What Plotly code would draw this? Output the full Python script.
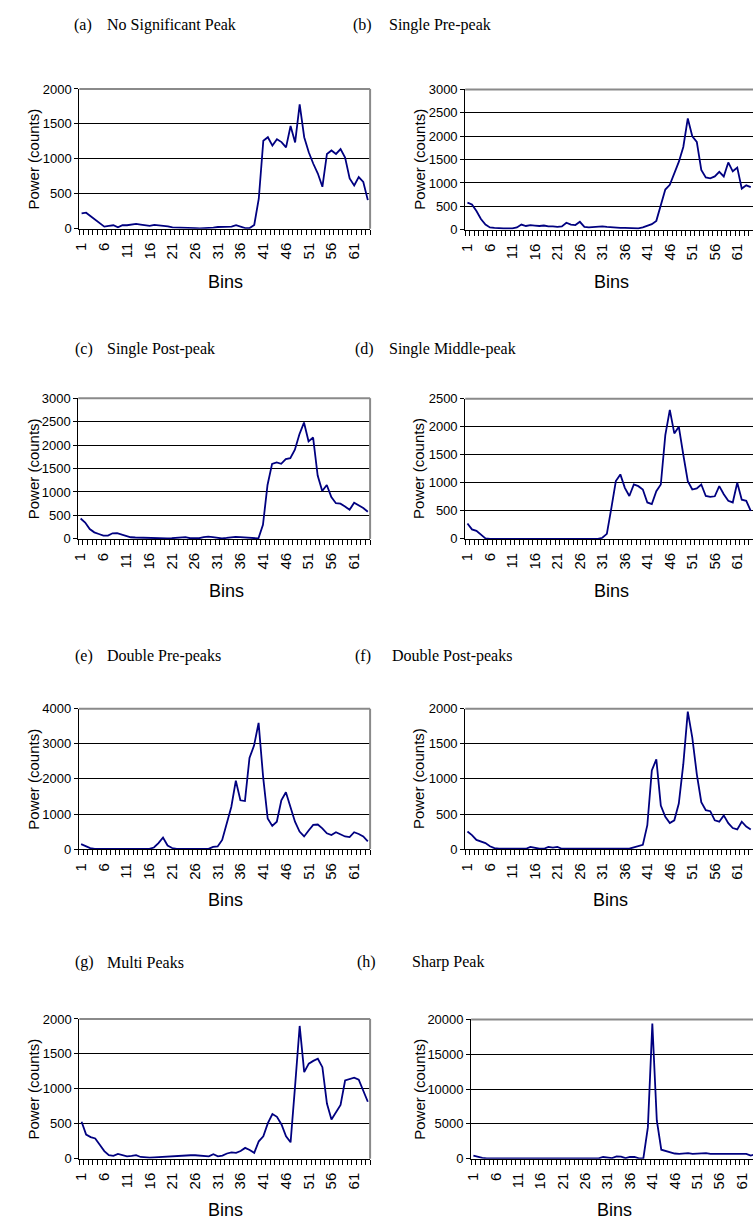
import plotly.graph_objects as go

# ---------------- data ----------------
bins = list(range(1, 65))
tick_bins = [1, 6, 11, 16, 21, 26, 31, 36, 41, 46, 51, 56, 61]
tick_labels = ["1", "6", "11", "16", "21", "26", "31", "36", "41", "46", "51", "56", "61"]

no_significant_peak = [220, 230, 180, 130, 80, 30, 40, 50, 20, 50, 50, 55, 70, 60, 50, 40,
                       55, 50, 40, 35, 20, 20, 10, 10, 15, 10, 5, 5, 10, 15, 25, 30,
                       25, 30, 50, 25, 10, 10, 55, 430, 1260, 1310, 1190, 1280, 1240, 1165, 1470, 1235,
                       1780, 1310, 1095, 930, 790, 600, 1070, 1120, 1070, 1140, 1020, 720, 620, 740, 670, 410]

single_pre_peak = [580, 540, 400, 230, 110, 50, 40, 30, 30, 30, 30, 50, 110, 80, 100, 90,
                   80, 90, 70, 70, 60, 70, 150, 110, 100, 170, 60, 50, 60, 70, 70, 60,
                   50, 40, 40, 40, 40, 30, 30, 50, 80, 120, 190, 520, 860, 960, 1200, 1450,
                   1770, 2380, 2000, 1880, 1280, 1120, 1100, 1140, 1240, 1140, 1440, 1250, 1330, 880, 950, 910]

single_post_peak = [435, 350, 210, 140, 105, 70, 70, 120, 125, 90, 55, 35, 30, 25, 25, 30,
                    25, 15, 10, 10, 15, 25, 35, 40, 15, 10, 15, 40, 50, 40, 20, 10,
                    20, 40, 45, 40, 30, 30, 20, 10, 300, 1150, 1600, 1630, 1600, 1700, 1720, 1900,
                    2230, 2480, 2080, 2160, 1350, 1020, 1150, 890, 760, 750, 690, 620, 770, 720, 660, 580]

single_middle_peak = [275, 170, 145, 80, 10, 0, 0, 0, 0, 0, 0, 0, 0, 0, 0, 0,
                      0, 0, 0, 0, 0, 0, 0, 0, 0, 0, 0, 0, 0, 0, 20, 90,
                      550, 1030, 1150, 910, 765, 970, 940, 880, 650, 620, 850, 970, 1850, 2300, 1880, 2000,
                      1500, 1030, 880, 900, 970, 765, 750, 760, 940, 795, 680, 650, 1000, 700, 680, 500]

double_pre_peaks = [140, 75, 30, 5, 5, 5, 5, 5, 5, 5, 5, 5, 5, 5, 5, 5,
                    45, 170, 330, 100, 30, 5, 5, 5, 5, 5, 5, 5, 5, 60, 75, 260,
                    730, 1200, 1950, 1390, 1370, 2600, 2950, 3600, 2050, 870, 660, 780, 1390, 1620, 1200, 780,
                    500, 360, 530, 690, 700, 590, 450, 400, 480, 430, 360, 340, 480, 430, 360, 220]

double_post_peaks = [250, 200, 130, 110, 85, 40, 15, 5, 5, 5, 5, 5, 5, 5, 30, 15,
                     5, 5, 30, 20, 30, 5, 5, 5, 5, 5, 5, 5, 5, 5, 5, 5,
                     5, 5, 5, 5, 5, 25, 40, 60, 340, 1120, 1280, 620, 460, 370, 410, 650,
                     1210, 1960, 1590, 1070, 670, 555, 540, 410, 390, 480, 370, 300, 280, 390, 320, 280]

multi_peaks = [530, 345, 310, 290, 200, 110, 50, 40, 70, 50, 35, 40, 50, 25, 15, 15,
               20, 25, 30, 30, 30, 35, 40, 45, 50, 50, 45, 45, 35, 65, 35, 45,
               75, 90, 85, 110, 155, 125, 85, 250, 320, 510, 640, 600, 490, 320, 235, 1050,
               1900, 1240, 1360, 1400, 1430, 1310, 790, 560, 675, 770, 1120, 1140, 1160, 1130, 980, 815]

sharp_peak = [450, 250, 120, 60, 60, 60, 60, 60, 60, 60, 60, 60, 60, 60, 60, 60,
              60, 60, 60, 60, 60, 60, 60, 60, 60, 60, 60, 60, 60, 250, 200, 100,
              350, 300, 80, 250, 250, 60, 100, 4500, 19400, 5500, 1300, 1100, 850, 750, 700, 750,
              800, 700, 750, 850, 800, 700, 700, 750, 700, 700, 700, 750, 800, 700, 450, 650]

tags = ["(a)", "(b)", "(c)", "(d)", "(e)", "(f)", "(g)", "(h)"]
names = ["No Significant Peak", "Single Pre-peak", "Single Post-peak", "Single Middle-peak",
         "Double Pre-peaks", "Double Post-peaks", "Multi Peaks", "Sharp Peak"]
series = [no_significant_peak, single_pre_peak, single_post_peak, single_middle_peak,
          double_pre_peaks, double_post_peaks, multi_peaks, sharp_peak]
y_max = [2000, 3000, 3000, 2500, 4000, 2000, 2000, 20000]
y_step = [500, 500, 500, 500, 1000, 500, 500, 5000]

# ---------------- layout (pixel geometry) ----------------
W, H = 753, 1226
# plot area: left, right, top, bottom (px) ; x range end
geom = [
    (73.0, 366.5, 83.0, 224.5, 64.5),
    (462.5, 753.0, 83.5, 225.5, 64.5),
    (72.0, 366.5, 396.0, 538.5, 64.5),
    (462.5, 753.0, 396.5, 538.5, 64.5),
    (72.5, 366.5, 710.5, 852.5, 64.5),
    (462.5, 753.0, 710.5, 852.5, 64.5),
    (73.0, 366.5, 1024.5, 1166.0, 64.5),
    (468.5, 753.0, 1025.0, 1166.0, 63.5),
]
title_y = [18, 18, 346, 346, 657, 657, 967, 967]
tag_x = [66, 347, 67, 349, 67, 349, 67, 351]
name_x = [99, 384, 99, 384, 99, 387, 99, 407]
ytitle_x = [27.0, 416.0, 27.0, 416.0, 27.0, 416.0, 27.0, 415.5]
bins_lab = [(221, 278), (610, 278), (221.5, 591.7), (610, 591.7),
            (220.7, 904), (609, 904), (220.7, 1218), (613, 1218)]


def px(x):
    return x / W


def py(y):
    return 1 - y / H


fig = go.Figure()
layout = dict(width=W, height=H, margin=dict(l=0, r=0, t=0, b=0),
              paper_bgcolor="white", plot_bgcolor="white", showlegend=False)
annotations = []
shapes = []
serif = "Liberation Serif, Times New Roman, serif"
sans = "Liberation Sans, Arial, sans-serif"

for i in range(8):
    n = "" if i == 0 else str(i + 1)
    xa, ya = "x" + n, "y" + n
    l, r, t, b, xend = geom[i]
    fig.add_trace(go.Scatter(x=bins, y=series[i], mode="lines",
                             line=dict(color="#000080", width=1.8),
                             xaxis=xa, yaxis=ya, hoverinfo="skip"))
    layout["xaxis" + n] = dict(
        domain=[px(l), px(r)], range=[0.5, xend], anchor=ya,
        tickmode="array", tickvals=tick_bins, ticktext=tick_labels, tickangle=-90,
        ticks="outside", ticklen=7, tickcolor="rgba(0,0,0,0)",
        minor=dict(tickmode="array", tickvals=[k + 0.5 for k in range(0, 65)],
                   ticks="outside", ticklen=5, tickcolor="black", tickwidth=1, showgrid=False),
        showline=True, linecolor="black", linewidth=1, showgrid=False, zeroline=False,
        tickfont=dict(family=sans, size=15, color="black"), fixedrange=True)
    layout["yaxis" + n] = dict(
        domain=[py(b), py(t)], range=[0, y_max[i]], anchor=xa,
        tick0=0, dtick=y_step[i], tickformat="d", ticks="outside", ticklen=4, tickcolor="black",
        showline=True, linecolor="black", linewidth=1,
        showgrid=True, gridcolor="black", gridwidth=1, zeroline=False,
        tickfont=dict(family=sans, size=13, color="black"), fixedrange=True)
    # grey frame on top (and right for left-column panels)
    shapes.append(dict(type="line", xref=xa + " domain", yref=ya + " domain",
                       x0=0, x1=1, y0=1, y1=1, layer="above",
                       line=dict(color="#8a8a8a", width=2)))
    if r < W - 1:
        shapes.append(dict(type="line", xref=xa + " domain", yref=ya + " domain",
                           x0=1, x1=1, y0=0, y1=1, layer="above",
                           line=dict(color="#8a8a8a", width=2)))
    # titles
    annotations.append(dict(text=tags[i], xref="paper", yref="paper", x=px(tag_x[i]), y=py(title_y[i]),
                            xanchor="left", yanchor="middle", showarrow=False,
                            font=dict(family=serif, size=16, color="black")))
    annotations.append(dict(text=names[i], xref="paper", yref="paper", x=px(name_x[i]), y=py(title_y[i]),
                            xanchor="left", yanchor="middle", showarrow=False,
                            font=dict(family=serif, size=16, color="black")))
    # axis titles
    annotations.append(dict(text="Power (counts)", xref="paper", yref="paper",
                            x=px(ytitle_x[i]), y=py((t + b) / 2), textangle=-90,
                            xanchor="center", yanchor="middle", showarrow=False,
                            font=dict(family=sans, size=15, color="black")))
    bx, by = bins_lab[i]
    annotations.append(dict(text="Bins", xref="paper", yref="paper", x=px(bx), y=py(by),
                            xanchor="center", yanchor="middle", showarrow=False,
                            font=dict(family=sans, size=18, color="black")))

layout["annotations"] = annotations
layout["shapes"] = shapes
fig.update_layout(**layout)
fig.write_html("out.html")
